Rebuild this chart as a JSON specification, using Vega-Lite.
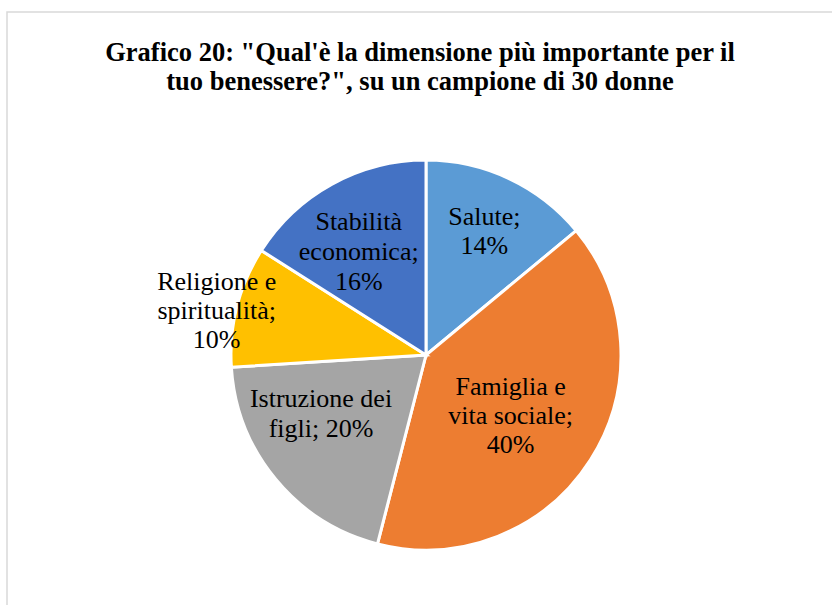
{
  "$schema": "https://vega.github.io/schema/vega-lite/v6.json",
  "width": 838,
  "height": 686,
  "autosize": "none",
  "padding": {"left": 7, "top": 12, "right": 0, "bottom": 0},
  "background": "white",
  "view": {"stroke": "#D9D9D9", "strokeWidth": 1.5},
  "config": {"view": {"stroke": "#D9D9D9", "strokeWidth": 1.5}},
  "title": {
    "text": ["Grafico 20: \"Qual'è la dimensione più importante per il", "tuo benessere?\", su un campione di 30 donne"],
    "font": "Liberation Serif, Times New Roman, serif",
    "fontSize": 26.5,
    "fontWeight": "bold",
    "color": "#000000",
    "anchor": "middle",
    "frame": "group",
    "baseline": "alphabetic",
    "lineHeight": 29,
    "offset": 0,
    "dx": -6,
    "dy": 104
  },
  "data": {
    "values": [
      {"categoria": "Salute", "valore": 14, "ord": 1, "etichetta": "Salute;\n14%"},
      {"categoria": "Famiglia e vita sociale", "valore": 40, "ord": 2, "etichetta": "Famiglia e\nvita sociale;\n40%"},
      {"categoria": "Istruzione dei figli", "valore": 20, "ord": 3, "etichetta": "Istruzione dei\nfigli; 20%"},
      {"categoria": "Religione e spiritualità", "valore": 10, "ord": 4, "etichetta": "Religione e\nspiritualità;\n10%"},
      {"categoria": "Stabilità economica", "valore": 16, "ord": 5, "etichetta": "Stabilità\neconomica;\n16%"}
    ]
  },
  "encoding": {
    "theta": {"field": "valore", "type": "quantitative", "stack": true},
    "order": {"field": "ord", "type": "quantitative"}
  },
  "layer": [
    {
      "mark": {"type": "arc", "outerRadius": 195, "stroke": "white", "strokeWidth": 3},
      "encoding": {
        "color": {
          "field": "categoria",
          "type": "nominal",
          "scale": {
            "domain": ["Salute", "Famiglia e vita sociale", "Istruzione dei figli", "Religione e spiritualità", "Stabilità economica"],
            "range": ["#5B9BD5", "#ED7D31", "#A5A5A5", "#FFC000", "#4472C4"]
          },
          "legend": null
        }
      }
    },
    {
      "mark": {"type": "text", "radius": 137, "dy": -14, "font": "Liberation Serif, Times New Roman, serif", "fontSize": 26, "lineHeight": 29, "lineBreak": "\n", "align": "center", "baseline": "middle", "color": "#000000"},
      "encoding": {"text": {"condition": {"test": "datum.categoria === 'Salute'", "field": "etichetta"}, "value": ""}}
    },
    {
      "mark": {"type": "text", "radius": 105, "dx": -4, "dy": -24, "font": "Liberation Serif, Times New Roman, serif", "fontSize": 26, "lineHeight": 29, "lineBreak": "\n", "align": "center", "baseline": "middle", "color": "#000000"},
      "encoding": {"text": {"condition": {"test": "datum.categoria === 'Famiglia e vita sociale'", "field": "etichetta"}, "value": ""}}
    },
    {
      "mark": {"type": "text", "radius": 122, "dx": -11, "dy": -34, "font": "Liberation Serif, Times New Roman, serif", "fontSize": 26, "lineHeight": 30, "lineBreak": "\n", "align": "center", "baseline": "middle", "color": "#000000"},
      "encoding": {"text": {"condition": {"test": "datum.categoria === 'Istruzione dei figli'", "field": "etichetta"}, "value": ""}}
    },
    {
      "mark": {"type": "text", "radius": 213, "dx": -3, "dy": -20, "font": "Liberation Serif, Times New Roman, serif", "fontSize": 26, "lineHeight": 29, "lineBreak": "\n", "align": "center", "baseline": "middle", "color": "#000000"},
      "encoding": {"text": {"condition": {"test": "datum.categoria === 'Religione e spiritualità'", "field": "etichetta"}, "value": ""}}
    },
    {
      "mark": {"type": "text", "radius": 123, "dx": -8, "dy": -25, "font": "Liberation Serif, Times New Roman, serif", "fontSize": 26, "lineHeight": 30, "lineBreak": "\n", "align": "center", "baseline": "middle", "color": "#000000"},
      "encoding": {"text": {"condition": {"test": "datum.categoria === 'Stabilità economica'", "field": "etichetta"}, "value": ""}}
    }
  ]
}
